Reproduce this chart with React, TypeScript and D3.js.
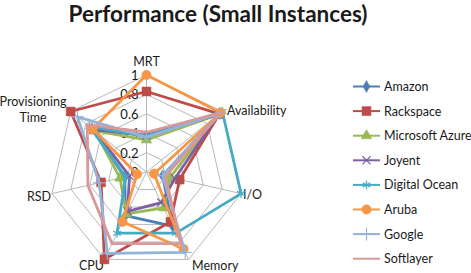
import React from "react";
import * as d3 from "d3";

const AXES = ["MRT", "Availability", "I/O", "Memory", "CPU", "RSD", "Provisioning Time"];
const TICKS = [0, 0.2, 0.4, 0.6, 0.8, 1];
const SERIES_NAMES = ["Amazon", "Rackspace", "Microsoft Azure", "Joyent", "Digital Ocean", "Aruba", "Google", "Softlayer"];

const amazon = [0.37, 0.97, 0.17, 0.62, 0.5, 0.23, 0.72];
const rackspace = [0.83, 0.96, 0.35, 0.57, 1.0, 0.48, 1.0];
const azure = [0.33, 0.95, 0.25, 0.41, 0.48, 0.28, 0.68];
const joyent = [0.38, 0.95, 0.3, 0.35, 0.45, 0.18, 0.7];
const digitalOcean = [0.37, 1.0, 1.0, 0.7, 0.7, 0.22, 0.75];
const aruba = [1.0, 0.98, 0.08, 0.88, 0.57, 0.1, 0.71];
const google = [0.36, 0.97, 0.17, 0.92, 0.93, 0.5, 0.91];
const softlayer = [0.41, 0.98, 0.2, 0.82, 0.82, 0.62, 0.78];

const SERIES_VALUES = [amazon, rackspace, azure, joyent, digitalOcean, aruba, google, softlayer];
const COLORS = ["#4A7EBB", "#BE4B48", "#98B954", "#7D60A0", "#46AAC5", "#F79646", "#93B3DA", "#D99795"];
const SYMBOLS: (d3.SymbolType | null)[] = [
  d3.symbolDiamond, d3.symbolSquare, d3.symbolTriangle, d3.symbolX,
  d3.symbolAsterisk, d3.symbolCircle, d3.symbolPlus, null,
];
const SYMBOL_FILLED = [true, true, true, false, false, true, false, true];
const SYMBOL_SIZES = [40, 80, 50, 45, 55, 70, 55, 0];

const W = 471, H = 273;
const CX = 146.5, CY = 172, R = 97;
const FONT = "Lato, 'Open Sans', sans-serif";

export default function App() {
  const r = d3.scaleLinear().domain([0, 1]).range([0, R]);
  const n = AXES.length;
  const angle = (i: number) => (i * 2 * Math.PI) / n;
  const pt = (i: number, v: number): [number, number] => [
    CX + r(v) * Math.sin(angle(i)),
    CY - r(v) * Math.cos(angle(i)),
  ];
  const radial = d3
    .lineRadial<number>()
    .angle((_, i) => angle(i))
    .radius((d) => r(d))
    .curve(d3.curveLinearClosed);

  const rings = TICKS.filter((t) => t > 0);

  return (
    <svg width={W} height={H} style={{ position: "absolute", left: 0, top: 0, background: "#fff" }}>
      <text x={218} y={22} textAnchor="middle" fontFamily={FONT} fontWeight={700} fontSize={22.5} fill="#1a1a1a">
        Performance (Small Instances)
      </text>
      <g>
        {rings.map((t) => (
          <path
            key={t}
            d={d3.line()(AXES.map((_, i) => pt(i, t)).concat([pt(0, t)])) || ""}
            fill="none"
            stroke="#b8b8b8"
            strokeWidth={1}
          />
        ))}
        {AXES.map((_, i) => {
          const [x, y] = pt(i, 1);
          return <line key={i} x1={CX} y1={CY} x2={x} y2={y} stroke="#b8b8b8" strokeWidth={1} />;
        })}
      </g>
      <g fontFamily={FONT} fontSize={13} fill="#1a1a1a">
        {TICKS.map((t) => (
          <text key={t} x={CX - 8} y={CY - r(t) + 5} textAnchor="end">
            {String(t)}
          </text>
        ))}
      </g>
      <g fontFamily={FONT} fontSize={12.5} fill="#1a1a1a">
        <text x={CX} y={66} textAnchor="middle">MRT</text>
        <text x={227} y={115}>Availability</text>
        <text x={243} y={199}>I/O</text>
        <text x={192} y={270}>Memory</text>
        <text x={79} y={270}>CPU</text>
        <text x={27} y={201}>RSD</text>
        <text x={33} y={106} textAnchor="middle">Provisioning</text>
        <text x={33} y={122} textAnchor="middle">Time</text>
      </g>
      <g>
        {SERIES_VALUES.map((vals, s) => (
          <g key={s}>
            <path
              transform={`translate(${CX},${CY})`}
              d={radial(vals) || ""}
              fill="none"
              stroke={COLORS[s]}
              strokeWidth={2.8}
              strokeLinejoin="round"
            />
            {SYMBOLS[s] &&
              vals.map((v, i) => {
                const [x, y] = pt(i, v);
                return (
                  <path
                    key={i}
                    transform={`translate(${x},${y})`}
                    d={d3.symbol().type(SYMBOLS[s] as d3.SymbolType).size(SYMBOL_SIZES[s])() || ""}
                    fill={SYMBOL_FILLED[s] ? COLORS[s] : "none"}
                    stroke={COLORS[s]}
                    strokeWidth={SYMBOL_FILLED[s] ? 0.5 : 1.2}
                  />
                );
              })}
          </g>
        ))}
      </g>
      <g fontFamily={FONT} fontSize={12.5} fill="#1a1a1a">
        {SERIES_NAMES.map((name, s) => {
          const y = 86.5 + s * 24.6;
          return (
            <g key={name}>
              <line x1={353} x2={380} y1={y} y2={y} stroke={COLORS[s]} strokeWidth={2} />
              {SYMBOLS[s] && (
                <path
                  transform={`translate(366.5,${y})`}
                  d={d3.symbol().type(SYMBOLS[s] as d3.SymbolType).size(SYMBOL_SIZES[s])() || ""}
                  fill={SYMBOL_FILLED[s] ? COLORS[s] : "none"}
                  stroke={COLORS[s]}
                  strokeWidth={SYMBOL_FILLED[s] ? 0.5 : 1.2}
                />
              )}
              <text x={384} y={y + 4.5}>{name}</text>
            </g>
          );
        })}
      </g>
    </svg>
  );
}
